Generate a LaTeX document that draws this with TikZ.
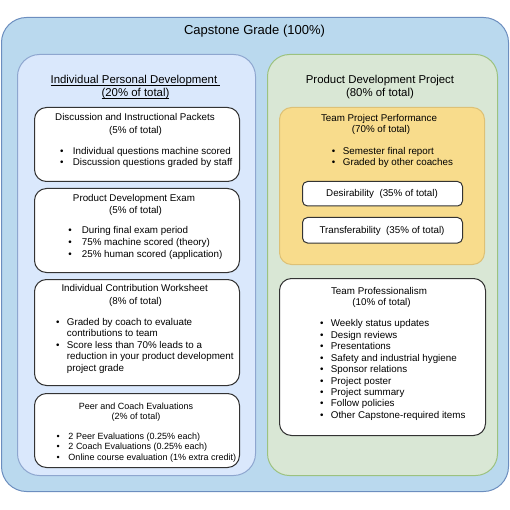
\documentclass[tikz,border=0pt]{standalone}
\usepackage{fontspec}
\setmainfont{Liberation Sans}
\definecolor{outerfill}{HTML}{BAD9EE}
\definecolor{outerline}{HTML}{6C8EBF}
\definecolor{leftfill}{HTML}{DAE8FC}
\definecolor{leftline}{HTML}{8EA6CF}
\definecolor{rightfill}{HTML}{D9E7D5}
\definecolor{rightline}{HTML}{9CC27F}
\definecolor{yelfill}{HTML}{F8DC8C}
\definecolor{yelline}{HTML}{DDC176}
\definecolor{boxline}{HTML}{333333}
\newcommand{\bitem}[5]{\node[txt,anchor=base west] (#1) at (#2pt,-#3pt) {\llap{•\hspace{#4pt}}#5};}
\newcommand{\bitemsm}[5]{\node[txtsm,anchor=base west] (#1) at (#2pt,-#3pt) {\llap{•\hspace{#4pt}}#5};}
\newcommand{\myul}[1]{\setbox0\hbox{#1}\rlap{\rule[-1.8pt]{\wd0}{0.6pt}}\box0}
\begin{document}
\begin{tikzpicture}[x=1pt,y=1pt,
  txt/.style={inner sep=0pt, font=\fontsize{9.8}{11.6}\selectfont},
  txtsm/.style={inner sep=0pt, font=\fontsize{9}{10.8}\selectfont},
  head/.style={inner sep=0pt, font=\fontsize{11.4}{13}\selectfont},
  panel/.style={draw, line width=1pt, anchor=north west, inner sep=0pt},
  whitebox/.style={panel, fill=white, draw=boxline, rounded corners=12pt},
]
\useasboundingbox (0,0) rectangle (510,-510);
% outer
\node[panel, fill=outerfill, draw=outerline, rounded corners=25pt,
      minimum width=507pt, minimum height=474pt] (outer) at (1,-17) {};
\node[inner sep=0pt, font=\fontsize{13}{15}\selectfont, anchor=base] (title) at (254.5,-34.5) {Capstone Grade (100\%)};
% left panel
\node[panel, fill=leftfill, draw=leftline, rounded corners=22pt,
      minimum width=238pt, minimum height=421pt] (left) at (17,-54) {};
\node[head, anchor=base] (lh1) at (135.5,-84) {\myul{Individual Personal Development\ }};
\node[head, anchor=base] (lh2) at (135.5,-96.7) {\myul{(20\% of total)}};
% right panel
\node[panel, fill=rightfill, draw=rightline, rounded corners=22pt,
      minimum width=230pt, minimum height=421pt] (right) at (267,-54) {};
\node[head, anchor=base] (rh1) at (380,-84) {Product Development Project};
\node[head, anchor=base] (rh2) at (380,-96.7) {(80\% of total)};

% Box 1
\node[whitebox, minimum width=205pt, minimum height=74pt] (b1) at (34,-107) {};
\node[txt, anchor=base] (b1h1) at (135,-120.7) {Discussion and Instructional Packets};
\node[txt, anchor=base] (b1h2) at (135.5,-133.4) {(5\% of total)};
\bitem{b1i1}{72.7}{154.1}{9.3}{Individual questions machine scored}
\bitem{b1i2}{72.7}{165.4}{9.3}{Discussion questions graded by staff}

% Box 2
\node[whitebox, minimum width=205pt, minimum height=84pt] (b2) at (34,-188) {};
\node[txt, anchor=base] (b2h1) at (134,-201.7) {Product Development Exam};
\node[txt, anchor=base] (b2h2) at (135.5,-213.4) {(5\% of total)};
\bitem{b2i1}{81.7}{233.5}{10}{During final exam period}
\bitem{b2i2}{81.7}{245.5}{10}{75\% machine scored (theory)}
\bitem{b2i3}{81.7}{257.4}{10}{25\% human scored (application)}

% Box 3
\node[whitebox, minimum width=205pt, minimum height=106pt] (b3) at (34,-279) {};
\node[txt, anchor=base] (b3h1) at (134.7,-291.7) {Individual Contribution Worksheet};
\node[txt, anchor=base] (b3h2) at (135.5,-304.1) {(8\% of total)};
\bitem{b3i1}{66.7}{325.1}{7.3}{Graded by coach to evaluate}
\node[txt, anchor=base west] (b3c1) at (66.7,-336.6) {contributions to team};
\bitem{b3i2}{66.7}{348.1}{7.3}{Score less than 70\% leads to a}
\node[txt, anchor=base west] (b3c2) at (66.7,-359.6) {reduction in your product development};
\node[txt, anchor=base west] (b3c3) at (66.7,-371.2) {project grade};

% Box 4
\node[whitebox, minimum width=205pt, minimum height=74pt] (b4) at (34,-393) {};
\node[txtsm, anchor=base] (b4h1) at (136,-409.2) {Peer and Coach Evaluations};
\node[txtsm, anchor=base] (b4h2) at (136,-419.9) {(2\% of total)};
\bitemsm{b4i1}{68.3}{439.2}{8.7}{2 Peer Evaluations (0.25\% each)}
\bitemsm{b4i2}{68.3}{449.9}{8.7}{2 Coach Evaluations (0.25\% each)}
\bitemsm{b4i3}{68.3}{460.9}{8.7}{Online course evaluation (1\% extra credit)}

% Yellow box
\node[panel, fill=yelfill, draw=yelline, rounded corners=12pt,
      minimum width=205pt, minimum height=157pt] (tpp) at (279,-107) {};
\node[txt, anchor=base] (tph1) at (379,-121.7) {Team Project Performance};
\node[txt, anchor=base] (tph2) at (381,-132.7) {(70\% of total)};
\bitem{tpi1}{342.7}{154.4}{7.7}{Semester final report}
\bitem{tpi2}{342.7}{165.6}{7.7}{Graded by other coaches}
\node[whitebox, rounded corners=5pt, minimum width=160pt, minimum height=24.5pt] (des) at (302,-181) {};
\node[txt, anchor=base] (dest) at (382,-196.4) {Desirability\ \ (35\% of total)};
\node[whitebox, rounded corners=5pt, minimum width=160pt, minimum height=25.5pt] (tra) at (302,-217) {};
\node[txt, anchor=base] (trat) at (382,-233.4) {Transferability\ \ (35\% of total)};

% Team professionalism
\node[whitebox, minimum width=206pt, minimum height=157pt] (tpr) at (279,-278) {};
\node[txt, anchor=base] (tprh1) at (379,-294.1) {Team Professionalism};
\node[txt, anchor=base] (tprh2) at (381.5,-305.7) {(10\% of total)};
\bitem{tr1}{330.7}{326.7}{7.3}{Weekly status updates}
\bitem{tr2}{330.7}{338.16}{7.3}{Design reviews}
\bitem{tr3}{330.7}{349.62}{7.3}{Presentations}
\bitem{tr4}{330.7}{361.08}{7.3}{Safety and industrial hygiene}
\bitem{tr5}{330.7}{372.54}{7.3}{Sponsor relations}
\bitem{tr6}{330.7}{384.0}{7.3}{Project poster}
\bitem{tr7}{330.7}{395.46}{7.3}{Project summary}
\bitem{tr8}{330.7}{406.92}{7.3}{Follow policies}
\bitem{tr9}{330.7}{418.38}{7.3}{Other Capstone-required items}
\end{tikzpicture}
\end{document}
